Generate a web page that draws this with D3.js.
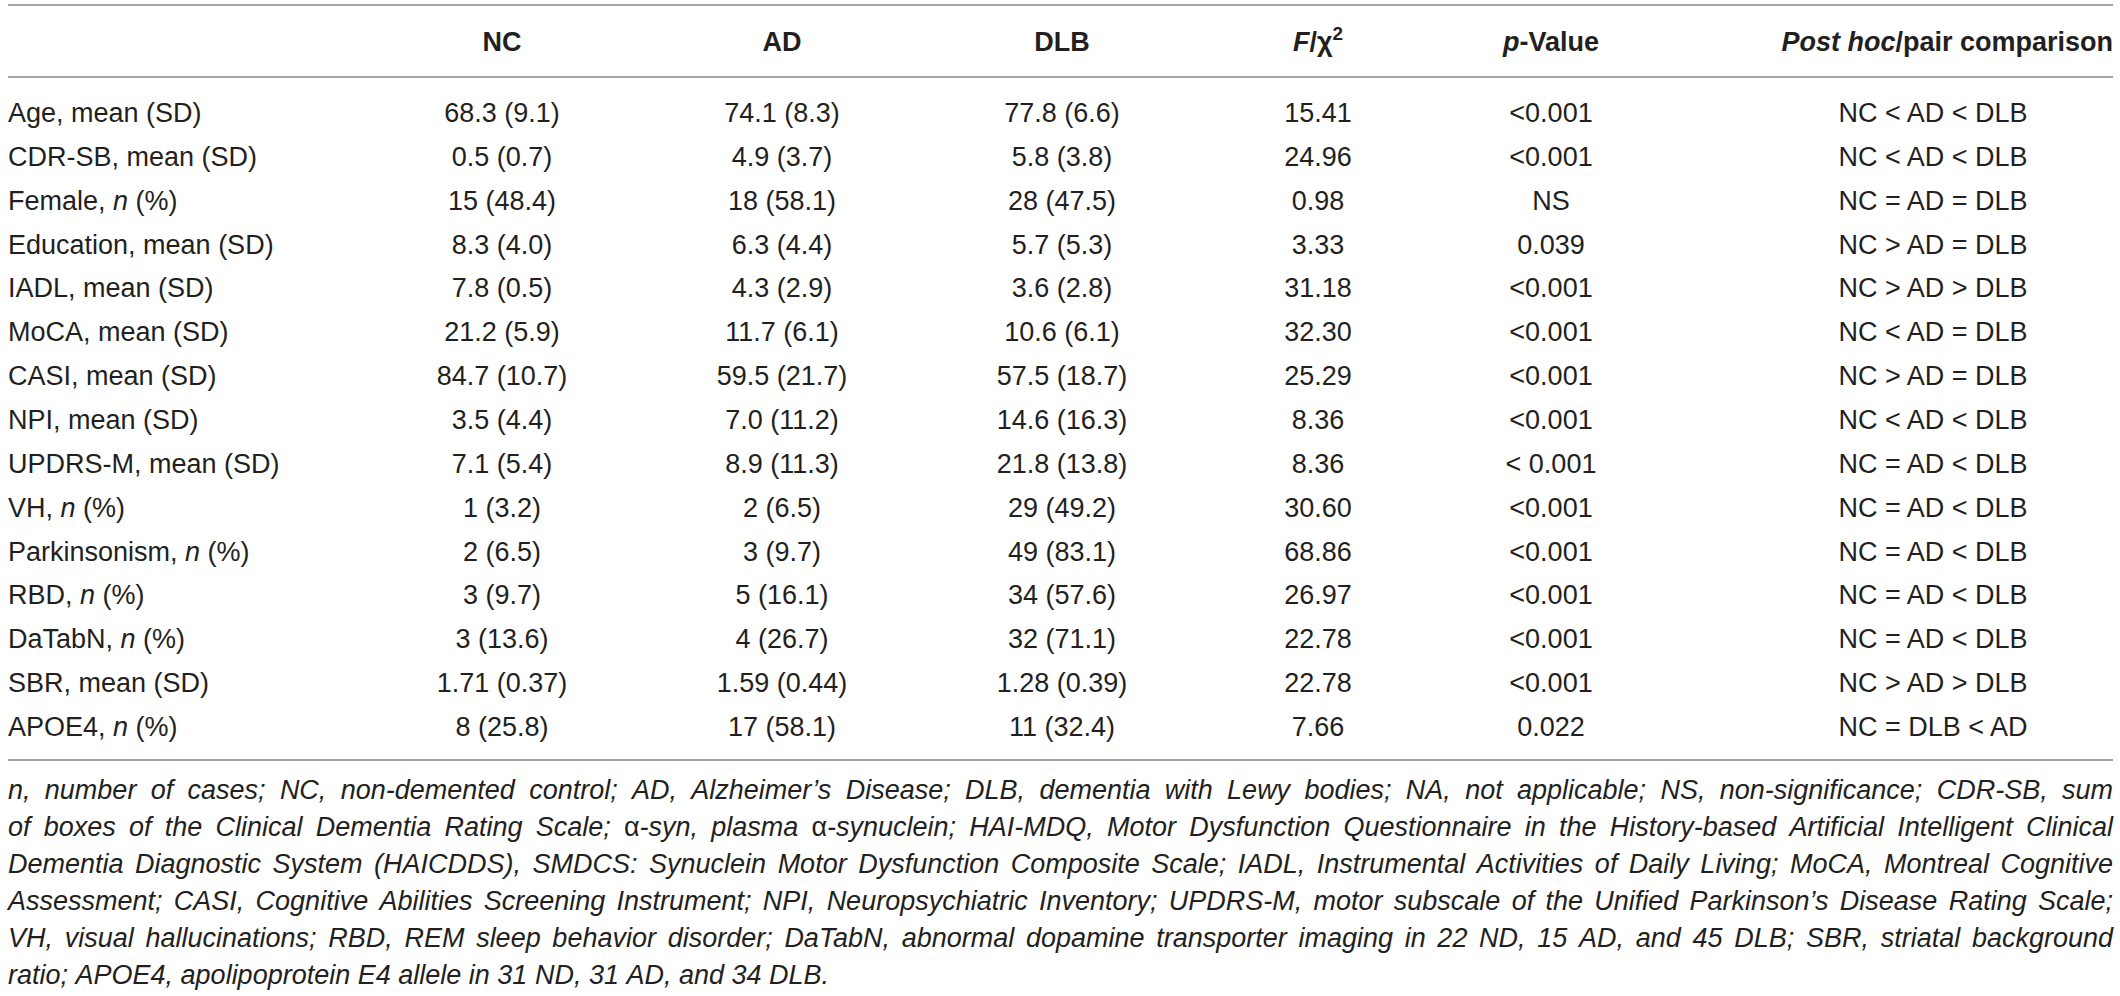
<!DOCTYPE html>
<html>
<head>
<meta charset="utf-8">
<script src="https://cdn.jsdelivr.net/npm/d3@7"></script>
<style>
  body { margin: 0; background: #fff; }
  text { font-family: "Liberation Sans", Arial, Helvetica, sans-serif; fill: #231f20; }
</style>
</head>
<body>
<svg id="tableSvg" width="2120" height="996"></svg>
<script>
// table content; _x_ marks italic, ^x marks superscript
const columnHeaders = ['NC', 'AD', 'DLB', '_F_/χ^2', '_p_-Value', '_Post hoc_/pair comparison'];

const rowLabels = [
    'Age, mean (SD)', 'CDR-SB, mean (SD)', 'Female, _n_ (%)', 'Education, mean (SD)',
    'IADL, mean (SD)', 'MoCA, mean (SD)', 'CASI, mean (SD)', 'NPI, mean (SD)',
    'UPDRS-M, mean (SD)', 'VH, _n_ (%)', 'Parkinsonism, _n_ (%)', 'RBD, _n_ (%)',
    'DaTabN, _n_ (%)', 'SBR, mean (SD)', 'APOE4, _n_ (%)'
];

const ncValues = ['68.3 (9.1)', '0.5 (0.7)', '15 (48.4)', '8.3 (4.0)', '7.8 (0.5)', '21.2 (5.9)',
    '84.7 (10.7)', '3.5 (4.4)', '7.1 (5.4)', '1 (3.2)', '2 (6.5)', '3 (9.7)', '3 (13.6)',
    '1.71 (0.37)', '8 (25.8)'];

const adValues = ['74.1 (8.3)', '4.9 (3.7)', '18 (58.1)', '6.3 (4.4)', '4.3 (2.9)', '11.7 (6.1)',
    '59.5 (21.7)', '7.0 (11.2)', '8.9 (11.3)', '2 (6.5)', '3 (9.7)', '5 (16.1)', '4 (26.7)',
    '1.59 (0.44)', '17 (58.1)'];

const dlbValues = ['77.8 (6.6)', '5.8 (3.8)', '28 (47.5)', '5.7 (5.3)', '3.6 (2.8)', '10.6 (6.1)',
    '57.5 (18.7)', '14.6 (16.3)', '21.8 (13.8)', '29 (49.2)', '49 (83.1)', '34 (57.6)', '32 (71.1)',
    '1.28 (0.39)', '11 (32.4)'];

const statValues = ['15.41', '24.96', '0.98', '3.33', '31.18', '32.30', '25.29', '8.36', '8.36',
    '30.60', '68.86', '26.97', '22.78', '22.78', '7.66'];

const pValues = ['<0.001', '<0.001', 'NS', '0.039', '<0.001', '<0.001', '<0.001', '<0.001',
    '< 0.001', '<0.001', '<0.001', '<0.001', '<0.001', '<0.001', '0.022'];

const postHoc = ['NC < AD < DLB', 'NC < AD < DLB', 'NC = AD = DLB', 'NC > AD = DLB', 'NC > AD > DLB',
    'NC < AD = DLB', 'NC > AD = DLB', 'NC < AD < DLB', 'NC = AD < DLB', 'NC = AD < DLB',
    'NC = AD < DLB', 'NC = AD < DLB', 'NC = AD < DLB', 'NC > AD > DLB', 'NC = DLB < AD'];

const footnoteLines = [
    'n, number of cases; NC, non-demented control; AD, Alzheimer’s Disease; DLB, dementia with Lewy bodies; NA, not applicable; NS, non-significance; CDR-SB, sum',
    'of boxes of the Clinical Dementia Rating Scale; α-syn, plasma α-synuclein; HAI-MDQ, Motor Dysfunction Questionnaire in the History-based Artificial Intelligent Clinical',
    'Dementia Diagnostic System (HAICDDS), SMDCS: Synuclein Motor Dysfunction Composite Scale; IADL, Instrumental Activities of Daily Living; MoCA, Montreal Cognitive',
    'Assessment; CASI, Cognitive Abilities Screening Instrument; NPI, Neuropsychiatric Inventory; UPDRS-M, motor subscale of the Unified Parkinson’s Disease Rating Scale;',
    'VH, visual hallucinations; RBD, REM sleep behavior disorder; DaTabN, abnormal dopamine transporter imaging in 22 ND, 15 AD, and 45 DLB; SBR, striatal background',
    'ratio; APOE4, apolipoprotein E4 allele in 31 ND, 31 AD, and 34 DLB.'
];

//layout
const svg = d3.select('#tableSvg');
const left = 8;
const right = 2113;
const fontSize = 27;
const ruleColor = '#a3a3a3';

const columns = [ncValues, adValues, dlbValues, statValues, pValues, postHoc];

//x position of each column centre
const xScale = d3.scaleOrdinal()
    .domain(d3.range(columns.length))
    .range([502, 782, 1062, 1318, 1551, 1933]);

//rows are bands
const yScale = d3.scaleBand()
    .domain(rowLabels)
    .range([91, 749]);

const footScale = d3.scaleLinear()
    .domain([0, footnoteLines.length - 1])
    .range([799, 984]);

//writes a string with _italic_ and ^sup markers into a text element
function richText(sel, str) {
    str.split(/(_[^_]+_|\^\S)/).filter(s => s.length).forEach(part => {
        if (part.startsWith('_')) {
            sel.append('tspan').style('font-style', 'italic').text(part.slice(1, -1));
        } else if (part.startsWith('^')) {
            sel.append('tspan').attr('dy', -11).attr('font-size', fontSize * 0.7).text(part.slice(1));
        } else {
            sel.append('tspan').text(part);
        }
    });
}

//rules
[5, 77, 760].forEach(y => {
    svg.append('line')
        .attr('x1', left).attr('x2', right)
        .attr('y1', y).attr('y2', y)
        .attr('stroke', ruleColor)
        .attr('stroke-width', 2);
});

//header row
columnHeaders.forEach((h, i) => {
    const last = i === columnHeaders.length - 1;
    const t = svg.append('text')
        .attr('x', last ? right : xScale(i))
        .attr('y', 51)
        .attr('text-anchor', last ? 'end' : 'middle')
        .attr('font-size', fontSize)
        .attr('font-weight', 'bold');
    richText(t, h);
});

//row labels
rowLabels.forEach(label => {
    const t = svg.append('text')
        .attr('x', left)
        .attr('y', yScale(label) + yScale.bandwidth() / 2 + 9)
        .attr('font-size', fontSize);
    richText(t, label);
});

//cells
columns.forEach((col, ci) => {
    svg.selectAll('.col' + ci)
        .data(col)
        .enter()
        .append('text')
            .attr('class', 'col' + ci)
            .attr('x', xScale(ci))
            .attr('y', (d, i) => yScale(rowLabels[i]) + yScale.bandwidth() / 2 + 9)
            .attr('text-anchor', 'middle')
            .attr('font-size', fontSize)
            .text(d => d);
});

//footnote, justified by spreading the words
const footLines = footnoteLines.map((line, li) => {
    const words = line.split(' ');
    const t = svg.append('text')
        .attr('y', footScale(li))
        .attr('font-size', fontSize)
        .style('font-style', 'italic');
    const spans = words.map(w => {
        const s = t.append('tspan');
        //greek letters stay upright
        w.split(/(α)/).filter(p => p.length).forEach(p => {
            const sub = s.append('tspan').text(p);
            if (p === 'α') sub.style('font-style', 'normal');
        });
        return s;
    });
    return {t, spans, justify: li < footnoteLines.length - 1};
});

//shrink the footnote font if a line would not fit with small gaps
const minGap = 6;
let fit = 1;
footLines.forEach(l => {
    if (!l.justify) return;
    const total = d3.sum(l.spans, s => s.node().getComputedTextLength());
    fit = Math.min(fit, (right - left - (l.spans.length - 1) * minGap) / total);
});
const footSize = fontSize * fit;

footLines.forEach(l => {
    l.t.attr('font-size', footSize);
    const widths = l.spans.map(s => s.node().getComputedTextLength());
    const total = d3.sum(widths);
    const gap = l.justify ? (right - left - total) / (l.spans.length - 1) : footSize * 0.278;
    let x = left;
    l.spans.forEach((s, i) => {
        s.attr('x', x);
        x += widths[i] + gap;
    });
});
</script>
</body>
</html>
